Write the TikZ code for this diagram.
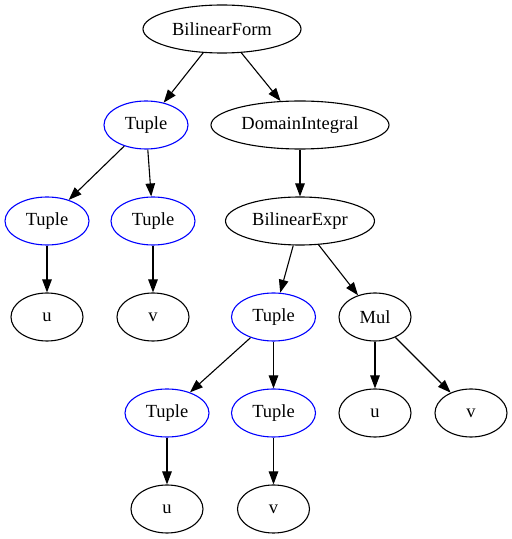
\documentclass[tikz,border=0pt]{standalone}
\usepackage{fontspec}
\setmainfont{Liberation Serif}
\usetikzlibrary{shapes.geometric,arrows.meta}
\tikzset{
  nd/.style={ellipse,draw=black,line width=1.1pt,inner sep=0pt,minimum height=48pt,font=\fontsize{18.5}{22}\selectfont},
  bl/.style={nd,draw=blue},
  edge/.style={line width=1.1pt,-{Triangle[length=13pt,width=9.5pt]}}
}
\begin{document}
\begin{tikzpicture}[x=1pt,y=1pt]
\useasboundingbox (0,0) rectangle (512,539);
\node[nd,minimum width=158pt] (bf) at (222,510) {BilinearForm};
\node[bl,minimum width=84pt] (t1) at (146,414) {Tuple};
\node[nd,minimum width=178pt] (di) at (300,414) {DomainIntegral};
\node[bl,minimum width=84pt] (t2) at (47,318) {Tuple};
\node[bl,minimum width=84pt] (t3) at (153,318) {Tuple};
\node[nd,minimum width=149pt] (be) at (300,318) {BilinearExpr};
\node[nd,minimum width=72pt] (u1) at (47,222) {u};
\node[nd,minimum width=72pt] (v1) at (153,222) {v};
\node[bl,minimum width=84pt] (t4) at (273.5,222) {Tuple};
\node[nd,minimum width=72pt] (mul) at (375,222) {Mul};
\node[bl,minimum width=84pt] (t5) at (167,126) {Tuple};
\node[bl,minimum width=84pt] (t6) at (273.5,126) {Tuple};
\node[nd,minimum width=72pt] (u2) at (375,126) {u};
\node[nd,minimum width=72pt] (v2) at (471,126) {v};
\node[nd,minimum width=72pt] (u3) at (167,30) {u};
\node[nd,minimum width=72pt] (v3) at (273.5,30) {v};
\draw[edge] (bf) -- (t1);
\draw[edge] (bf) -- (di);
\draw[edge] (t1) -- (t2);
\draw[edge] (t1) -- (t3);
\draw[edge] (di) -- (be);
\draw[edge] (t2) -- (u1);
\draw[edge] (t3) -- (v1);
\draw[edge] (be) -- (t4);
\draw[edge] (be) -- (mul);
\draw[edge] (t4) -- (t5);
\draw[edge] (t4) -- (t6);
\draw[edge] (mul) -- (u2);
\draw[edge] (mul) -- (v2);
\draw[edge] (t5) -- (u3);
\draw[edge] (t6) -- (v3);
\end{tikzpicture}
\end{document}
